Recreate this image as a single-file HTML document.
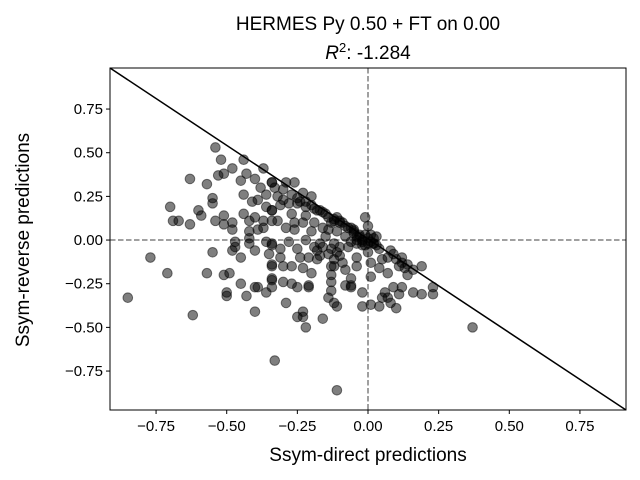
<!DOCTYPE html>
<html><head><meta charset="utf-8"><style>
body{margin:0;background:#fff;}
svg{display:block;font-family:"Liberation Sans","DejaVu Sans",sans-serif;}
</style></head><body>
<svg id="chart" width="640" height="480">
<text x="368" y="30" text-anchor="middle" font-size="19">HERMES Py 0.50 + FT on 0.00</text>
<text x="368" y="59" text-anchor="middle" font-size="19"><tspan font-style="italic">R</tspan><tspan font-size="13" dy="-7">2</tspan><tspan dy="7">: -1.284</tspan></text>
<text x="368" y="461" text-anchor="middle" font-size="19">Ssym-direct predictions</text>
<text transform="translate(29,240) rotate(-90)" text-anchor="middle" font-size="19">Ssym-reverse predictions</text>
<g id="ticks"></g>
<g id="plot"></g>
<rect x="110" y="68" width="516" height="342" fill="none" stroke="#000" stroke-width="1"/>
</svg>
<script>
const xTicks=[-0.75,-0.5,-0.25,0,0.25,0.5,0.75];
const yTicks=[-0.75,-0.5,-0.25,0,0.25,0.5,0.75];
const tickLabels=["\u22120.75","\u22120.50","\u22120.25","0.00","0.25","0.50","0.75"];
const xVals=[-0.54,-0.52,-0.63,-0.57,-0.53,-0.51,-0.48,-0.44,-0.43,-0.45,-0.37,-0.34,-0.55,-0.55,-0.70,-0.60,-0.59,-0.69,-0.67,-0.63,-0.54,-0.51,-0.51,-0.48,-0.48,-0.44,-0.44,-0.41,-0.39,-0.40,-0.37,-0.42,-0.42,-0.39,-0.37,-0.34,-0.36,-0.34,-0.42,-0.42,-0.47,-0.47,-0.48,-0.55,-0.45,-0.40,-0.36,-0.34,-0.35,-0.77,-0.71,-0.57,-0.51,-0.49,-0.45,-0.40,-0.39,-0.36,-0.34,-0.34,-0.34,-0.50,-0.50,-0.43,-0.85,-0.62,-0.40,-0.33,
-0.34,-0.29,-0.26,-0.23,-0.20,-0.32,-0.30,-0.28,-0.25,-0.22,-0.17,-0.34,-0.32,-0.29,-0.26,-0.26,-0.23,-0.22,-0.19,-0.16,-0.13,-0.14,-0.11,-0.11,-0.09,-0.06,-0.05,-0.01,-0.04,0.00,0.01,0.03,0.02,-0.02,-0.04,-0.06,-0.07,-0.28,-0.34,-0.31,-0.25,-0.19,-0.16,-0.12,-0.10,-0.11,-0.13,-0.17,-0.21,-0.18,-0.10,-0.09,-0.13,-0.12,-0.04,0.00,0.01,-0.04,-0.08,0.05,0.04,0.08,0.07,0.10,0.12,0.13,0.11,0.16,0.19,0.07,0.14,-0.31,-0.27,-0.24,-0.23,-0.20,-0.30,-0.34,-0.34,-0.30,-0.27,-0.25,-0.21,-0.21,-0.13,-0.12,-0.06,-0.06,-0.08,-0.06,-0.13,-0.02,0.01,-0.13,-0.14,-0.12,-0.11,-0.29,0.06,0.05,0.07,0.09,0.12,0.11,0.16,0.19,0.23,0.23,0.04,-0.02,0.01,0.08,0.10,-0.25,-0.23,-0.23,-0.16,-0.22,
0.37,-0.11,-0.02,0.01,-0.03,0.02,-0.01,0.03,0.00,-0.20,-0.18,-0.15,-0.12,-0.08,-0.25,-0.10,-0.05,
-0.33,-0.30,-0.27,-0.24,-0.22,-0.19,-0.16,-0.14,-0.12,-0.10,-0.07,-0.05,-0.03,-0.02,0.02,0.04,-0.01,0.00,-0.04,-0.08,-0.20,-0.15,-0.17,-0.22,-0.40,-0.38,-0.36,-0.31,-0.27,-0.18,-0.14,0.12,0.14,0.09];
const yVals=[0.53,0.46,0.35,0.32,0.37,0.38,0.41,0.46,0.38,0.34,0.41,0.33,0.24,0.21,0.19,0.17,0.14,0.11,0.11,0.09,0.11,0.14,0.09,0.10,0.06,0.15,0.26,0.22,0.23,0.13,0.11,0.11,0.05,0.06,0.07,0.11,0.19,0.17,0.01,-0.02,-0.01,-0.04,-0.06,-0.07,-0.10,-0.06,-0.01,-0.03,-0.08,-0.10,-0.19,-0.19,-0.20,-0.19,-0.25,-0.27,-0.27,-0.30,-0.27,-0.22,-0.15,-0.30,-0.32,-0.32,-0.33,-0.43,-0.41,-0.69,
0.33,0.33,0.33,0.27,0.25,0.25,0.23,0.21,0.21,0.19,0.17,0.17,0.11,0.07,0.10,0.06,0.10,0.14,0.10,0.07,0.10,0.06,0.13,0.05,0.10,0.07,0.05,0.13,0.02,0.01,0.03,0.02,-0.02,-0.03,-0.02,-0.01,-0.04,-0.01,-0.02,-0.05,-0.05,-0.04,-0.04,-0.02,-0.04,-0.07,-0.05,-0.09,-0.10,-0.11,-0.09,-0.13,-0.15,-0.11,-0.10,-0.07,-0.13,-0.15,-0.17,-0.11,-0.16,-0.06,-0.10,-0.11,-0.10,-0.16,-0.15,-0.17,-0.15,-0.19,-0.20,-0.10,-0.15,-0.10,-0.16,-0.19,-0.15,-0.14,-0.23,-0.24,-0.25,-0.27,-0.26,-0.27,-0.20,-0.15,-0.26,-0.27,-0.26,-0.22,-0.24,-0.30,-0.21,-0.29,-0.33,-0.36,-0.38,-0.36,-0.30,-0.33,-0.33,-0.27,-0.27,-0.31,-0.30,-0.31,-0.31,-0.27,-0.38,-0.38,-0.37,-0.36,-0.39,-0.44,-0.41,-0.44,-0.45,-0.50,
-0.50,-0.86,0.00,-0.01,0.02,0.01,0.03,-0.03,0.08,0.20,0.17,0.15,0.12,0.08,0.24,0.10,0.06,
0.30,0.29,0.26,0.22,0.22,0.18,0.16,0.13,0.11,0.11,0.07,0.04,0.03,-0.01,-0.02,-0.05,-0.03,-0.02,0.00,0.02,0.05,0.02,-0.02,0.00,0.35,0.30,0.26,0.20,0.15,-0.06,-0.08,-0.13,-0.14,-0.08];
const xMin=-0.913,xMax=0.913,yMin=-0.973,yMax=0.985;
const L=110,R=626,T=68,B=410;
const X=v=>L+(v-xMin)/(xMax-xMin)*(R-L);
const Y=v=>B-(v-yMin)/(yMax-yMin)*(B-T);
const NS="http://www.w3.org/2000/svg";
const plot=document.getElementById('plot'),tk=document.getElementById('ticks');
function mk(tag,attrs,parent){const e=document.createElementNS(NS,tag);for(const k in attrs)e.setAttribute(k,attrs[k]);parent.appendChild(e);return e;}
xTicks.forEach((v,i)=>{
  const l=mk('line',{x1:X(v),x2:X(v),y1:B,y2:B+4,stroke:'#000'},tk);
  
  
  const t=mk('text',{x:X(v),y:B+21,'text-anchor':'middle','font-size':15},tk);
  t.textContent=tickLabels[i];
  
  
});
yTicks.forEach((v,i)=>{
  const l=mk('line',{x1:L-4,x2:L,y1:Y(v),y2:Y(v),stroke:'#000'},tk);
  
  
  const t=mk('text',{x:L-7,y:Y(v)+5,'text-anchor':'end','font-size':15},tk);
  t.textContent=tickLabels[i];
  
  
});
const h=mk('line',{x1:L,x2:R,y1:Y(0),y2:Y(0),stroke:'#808080','stroke-width':1.5,'stroke-dasharray':'5.5,2.5'},plot);


const v0=mk('line',{x1:X(0),x2:X(0),y1:T,y2:B,stroke:'#808080','stroke-width':1.5,'stroke-dasharray':'5.5,2.5'},plot);


xVals.forEach((x,i)=>{
  const c=mk('circle',{cx:X(x),cy:Y(yVals[i]),r:4.8,fill:'#000','fill-opacity':0.5,stroke:'#000','stroke-opacity':0.5,'stroke-width':1},plot);
  
  
});
const d=mk('line',{x1:X(xMin),y1:Y(yMax),x2:X(xMax),y2:Y(yMin),stroke:'#000','stroke-width':1.5},plot);


</script>
</body></html>
